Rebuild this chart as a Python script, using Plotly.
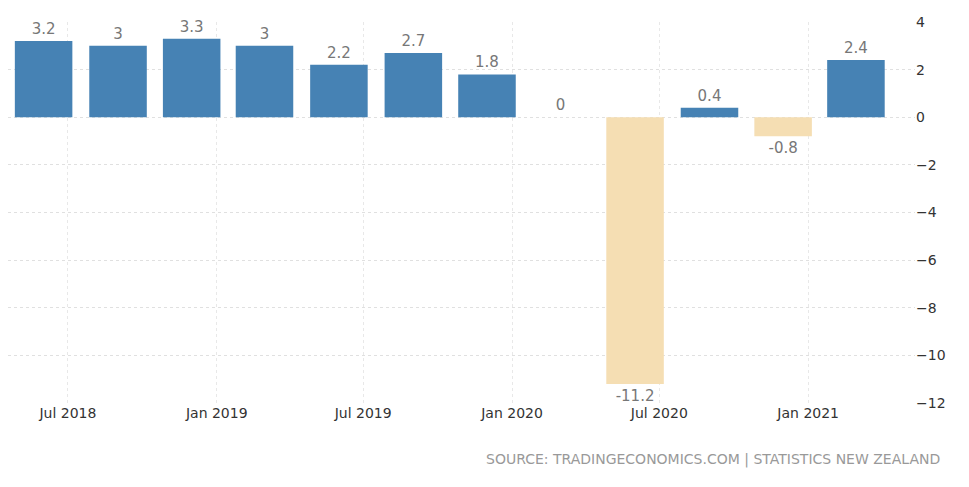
import plotly.graph_objects as go

quarters = ["2018-06-01", "2018-09-01", "2018-12-01", "2019-03-01", "2019-06-01", "2019-09-01",
            "2019-12-01", "2020-03-01", "2020-06-01", "2020-09-01", "2020-12-01", "2021-03-01"]
growth = [3.2, 3, 3.3, 3, 2.2, 2.7, 1.8, 0, -11.2, 0.4, -0.8, 2.4]
tick_dates = ["2018-07-01", "2019-01-01", "2019-07-01", "2020-01-01", "2020-07-01", "2021-01-01"]
tick_labels = ["Jul 2018", "Jan 2019", "Jul 2019", "Jan 2020", "Jul 2020", "Jan 2021"]

BLUE = "#4682b4"
WHEAT = "#f5deb3"
colors = [BLUE if v > 0 else WHEAT for v in growth]

fig = go.Figure(go.Bar(
    x=quarters, y=growth, marker_color=colors, marker_line_width=0,
    text=[f"{v:g}" for v in growth], textposition="outside",
    textfont=dict(color="#777777", size=15), cliponaxis=False,
))

fig.update_layout(
    width=969, height=487,
    margin=dict(l=0, r=62, t=14, b=92),
    paper_bgcolor="white", plot_bgcolor="white",
    font=dict(family="DejaVu Sans", color="#333333", size=14),
    bargap=0.21, showlegend=False,
    xaxis=dict(range=["2018-04-18", "2021-05-13"], tickvals=tick_dates, ticktext=tick_labels,
               showgrid=True, gridcolor="#e8e8e8", griddash="dot", zeroline=False,
               ticks="", showline=False),
    yaxis=dict(side="right", range=[-12, 4], dtick=2, showgrid=True, gridcolor="#e0e0e0",
               griddash="dot", zeroline=False, ticks="", ticklen=4),
    annotations=[dict(text="SOURCE: TRADINGECONOMICS.COM | STATISTICS NEW ZEALAND",
                      xref="paper", yref="paper", x=1.03, y=-0.12, xanchor="right",
                      yanchor="top", showarrow=False,
                      font=dict(size=14, color="#999999"))],
)

fig.write_html("out.html")
